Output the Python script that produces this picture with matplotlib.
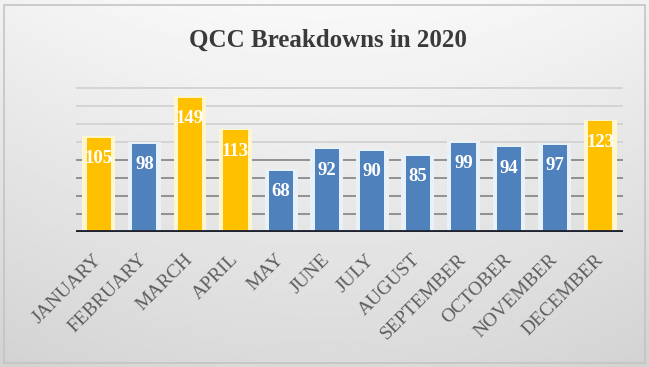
import numpy as np
import matplotlib
matplotlib.use("Agg")
import matplotlib.pyplot as plt
from matplotlib.patches import Rectangle

# ---- data ----
months = ["JANUARY", "FEBRUARY", "MARCH", "APRIL", "MAY", "JUNE", "JULY",
          "AUGUST", "SEPTEMBER", "OCTOBER", "NOVEMBER", "DECEMBER"]
breakdowns = [105, 98, 149, 113, 68, 92, 90, 85, 99, 94, 97, 123]
highlight = ["JANUARY", "MARCH", "APRIL", "DECEMBER"]
title = "QCC Breakdowns in 2020"

# ---- styles ----
YELLOW = "#FFC000"
BLUE = "#4F81BD"
SERIF = ["Liberation Serif", "DejaVu Serif"]

fig = plt.figure(figsize=(6.49, 3.67), dpi=100)

# background gradient
bg = fig.add_axes([0, 0, 1, 1], zorder=-10)
yy, xx = np.mgrid[0:1:200j, 0:1:300j]
val = 0.975 - 0.12 * yy - 0.03 * (np.abs(xx - 0.5) * 2) ** 2
bg.imshow(val, cmap="gray", vmin=0, vmax=1, aspect="auto", extent=[0, 1, 0, 1],
          origin="upper", interpolation="bilinear")
bg.set_xlim(0, 1)
bg.set_ylim(0, 1)
bg.axis("off")
bg.add_patch(Rectangle((4 / 649, 4 / 367), 641 / 649, 358 / 367, fill=False,
                       edgecolor="#c4c4c4", linewidth=1.2))

ax = fig.add_axes([76 / 649, (367 - 232) / 367, 547 / 649, 153 / 367])
ax.patch.set_alpha(0)
x = np.arange(len(months))
ax.set_xlim(-0.5, len(months) - 0.5)
ax.set_ylim(0, 170)

# gridlines: lighter at top, darker in lower part
for g in range(20, 161, 20):
    col = "#8a8a8a" if g <= 80 else "#d2d2d2"
    ax.axhline(g, color=col, linewidth=1.3, zorder=0)

colors = [YELLOW if m in highlight else BLUE for m in months]
halo = ["#fff6d0" if m in highlight else "#e8f0f8" for m in months]
ax.bar(x, [v + 2 for v in breakdowns], width=0.72, color=halo, zorder=1)
ax.bar(x, breakdowns, width=0.53, color=colors, zorder=2)

for xi, v in zip(x, breakdowns):
    ax.annotate(str(v), (xi, v), xytext=(0, -15), textcoords="offset points",
                ha="center", va="center", color="white", fontsize=13.5,
                fontweight="bold", family=SERIF, zorder=3)

ax.axhline(0, color="#1f2330", linewidth=3.5, zorder=4)

for s in ax.spines.values():
    s.set_visible(False)
ax.set_yticks([])
ax.set_xticks(x)
ax.set_xticklabels(months, rotation=45, ha="right", va="center",
                   rotation_mode="anchor", family=SERIF, fontsize=14,
                   color="#5e5e5e")
ax.tick_params(axis="x", length=0, pad=18)

fig.text(328 / 649, 1 - 40 / 367, title, ha="center", va="center",
         fontsize=18, fontweight="bold", family=SERIF, color="#3a3a3a")

fig.savefig("out.png", dpi=100)
